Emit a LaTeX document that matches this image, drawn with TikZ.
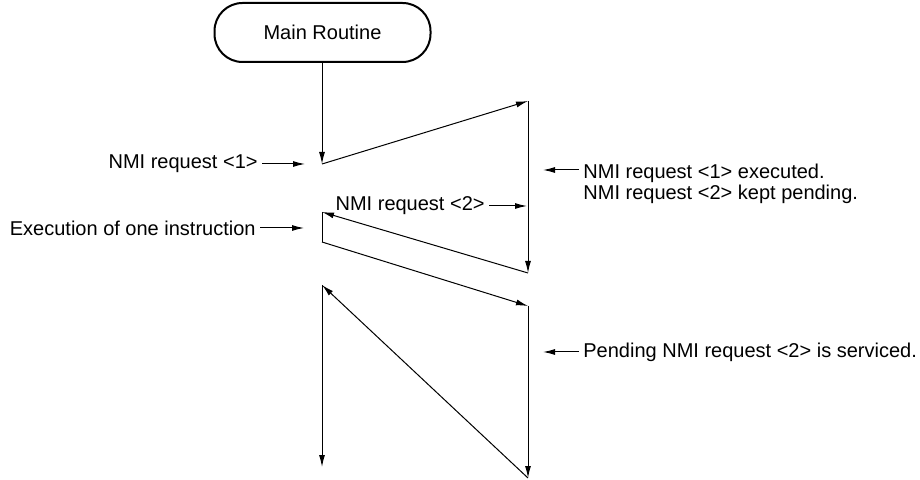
\documentclass[tikz,border=0pt]{standalone}
\usepackage{fontspec}
\setmainfont{Liberation Sans}
\usetikzlibrary{arrows.meta}

\begin{document}
\begin{tikzpicture}[
    x=0.5pt, y=-0.5pt,
    flow/.style={line width=0.5pt, -{Latex[length=6pt,width=3pt]}},
    label/.style={inner sep=2pt, font=\fontsize{10}{10.5}\selectfont},
    every node/.style={align=left}
]
\useasboundingbox (0,0) rectangle (920,480);

\node (main) [draw, line width=1pt, rounded corners=14pt, minimum width=108pt,
  minimum height=29.5pt, font=\fontsize{10}{12}\selectfont] at (322.5,32.5) {Main Routine};

% zigzag points
\coordinate (a) at (322,164);
\coordinate (b) at (528,101);
\coordinate (c) at (528,273);
\coordinate (d) at (322,212);
\coordinate (e) at (322,242);
\coordinate (f) at (528,306);
\coordinate (g) at (528,478);
\coordinate (h) at (322,285);
\coordinate (k) at (322,467);

\draw[flow] (main.south -| a) -- (a);
\draw[flow] (a) -- (b);
\draw[flow] (b) -- (c);
\draw[flow] (c) -- (d);
\draw[line width=0.5pt] (d) -- (e);
\draw[flow] (e) -- (f);
\draw[flow] (f) -- (g);
\draw[flow] (g) -- (h);
\draw[flow] (h) -- (k);

% labels
\node (req1) [label, anchor=east] at (262,164) {NMI request <1>};
\coordinate (req1tip) at (305,164);
\draw[flow] (req1) -- (req1tip);

\node (exec) [label, anchor=east] at (260,228) {Execution of one instruction};
\coordinate (exectip) at (304,228);
\draw[flow] (exec) -- (exectip);

\node (req2) [label, anchor=east] at (489,206) {NMI request <2>};
\coordinate (req2tip) at (527,206);
\draw[flow] (req2) -- (req2tip);

\node (done) [label, anchor=north west] at (579,160) {NMI request <1> executed.\\NMI request <2> kept pending.};
\coordinate (donetip) at (543,170);
\draw[flow] (donetip -| done.west) -- (donetip);

\node (serv) [label, anchor=west] at (579,352) {Pending NMI request <2> is serviced.};
\coordinate (servtip) at (543,352);
\draw[flow] (serv) -- (servtip);

\end{tikzpicture}
\end{document}
